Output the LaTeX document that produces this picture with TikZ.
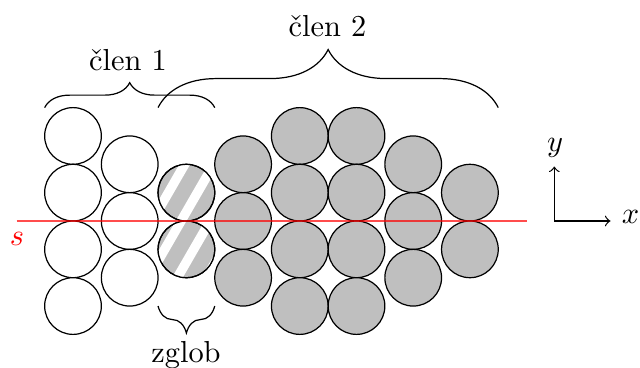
\documentclass[tikz,border=0pt]{standalone}
\usepackage{fontspec}
\usetikzlibrary{decorations.pathreplacing}
\begin{document}
\begin{tikzpicture}[x=0.329pt,y=-0.329pt,
  ball/.style={circle, draw=black, line width=0.4pt, minimum size=18.65pt, inner sep=0pt, outer sep=0pt},
  openball/.style={ball, fill=white},
  greyball/.style={ball, fill=lightgray},
  hatchball/.style={ball, fill=lightgray},
  stripe/.style={white, line width=3.1pt},
  bracestyle/.style={decorate, line width=0.4pt},
  label/.style={anchor=base, inner sep=0pt},
]
\useasboundingbox (0,0) rectangle (640,367);

% member 1 (open)
\foreach \yy [count=\i] in {135.95,192.65,249.35,306.05}
  \node[openball] (a\i) at (73,\yy) {};
\foreach \yy [count=\i] in {164.3,221,277.7}
  \node[openball] (b\i) at (129.7,\yy) {};
% joint (hatched)
\foreach \yy [count=\i] in {192.65,249.35}
  \node[hatchball] (c\i) at (186.4,\yy) {};
\begin{scope}
  \clip (c1.center) circle[radius=9.325pt] (c2.center) circle[radius=9.325pt];
  \foreach \px in {110.5, 139.5, 168.5, 197.5, 226.5, 255.5}
    \draw[stripe] (\px+57.7,92.5) -- (\px-57.7,292.5);
\end{scope}
\foreach \i in {1,2}
  \draw[line width=0.4pt] (c\i.center) circle[radius=9.325pt];
% member 2 (grey)
\foreach \yy [count=\i] in {164.3,221,277.7}
  \node[greyball] (d\i) at (243.1,\yy) {};
\foreach \yy [count=\i] in {135.95,192.65,249.35,306.05}
  \node[greyball] (e\i) at (299.8,\yy) {};
\foreach \yy [count=\i] in {135.95,192.65,249.35,306.05}
  \node[greyball] (f\i) at (356.5,\yy) {};
\foreach \yy [count=\i] in {164.3,221,277.7}
  \node[greyball] (g\i) at (413.2,\yy) {};
\foreach \yy [count=\i] in {192.65,249.35}
  \node[greyball] (h\i) at (469.9,\yy) {};

% braces
\coordinate (b1l) at (44.65,107.6);
\coordinate (b1r) at (214.75,107.6);
\coordinate (b2l) at (158.05,107.6);
\coordinate (b2r) at (498.25,107.6);
\coordinate (b3l) at (158.05,306);
\coordinate (b3r) at (214.75,306);
\draw[bracestyle, decoration={brace, amplitude=8.2pt}] (b1l) -- (b1r);
\draw[bracestyle, decoration={brace, amplitude=19.1pt}] (b2l) -- (b2r);
\draw[bracestyle, decoration={brace, amplitude=8.9pt}] (b3r) -- (b3l);
\node[label] (t1) at (128,70) {člen 1};
\node[label] (t2) at (327.5,36.7) {člen 2};
\node[label] (t3) at (186,362.5) {zglob};

% symmetry line
\coordinate (rl) at (16.7,221);
\coordinate (rr) at (526.7,221);
\draw[red, opacity=0.7, line width=0.6pt] (rl) -- (rr);
\node[label, red] (sl) at (17,245) {$s$};

% axes
\coordinate (O) at (554.3,221);
\coordinate (xe) at (610.5,221);
\coordinate (ye) at (554.3,166.5);
\draw[->, line width=0.4pt] (O) -- (xe);
\draw[->, line width=0.4pt] (O) -- (ye);
\node[label] (xl) at (630.5,223) {$x$};
\node[label] (yl) at (555,151) {$y$};
\end{tikzpicture}
\end{document}
